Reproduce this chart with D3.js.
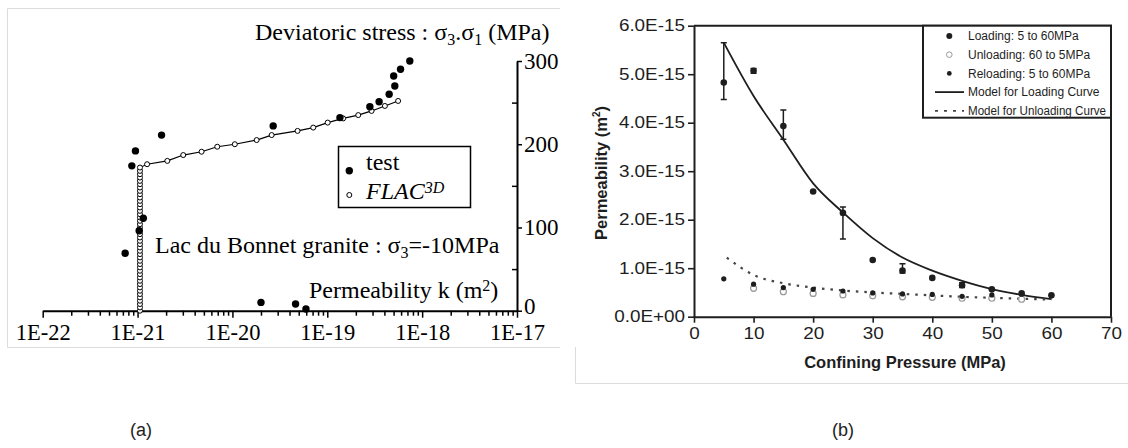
<!DOCTYPE html>
<html>
<head>
<meta charset="utf-8">
<script src="https://cdn.jsdelivr.net/npm/d3@7"></script>
<style>
  body { margin: 0; background: #fff; }
  svg { display: block; }
</style>
</head>
<body>
<script>
// ---- panel (a): permeability vs deviatoric stress ----
const testK = [8.7e-22, 9.5e-22, 1.79e-21, 7.4e-22, 1.04e-21, 1.15e-21, 2.69e-20, 1.36e-19, 2.81e-19,
               3.52e-19, 4.49e-19, 5.15e-19, 5.01e-19, 5.92e-19, 7.41e-19, 2.0e-20, 4.63e-20, 5.96e-20];
const testStress = [174, 192, 211, 69, 96, 111, 222, 232, 245, 251, 260, 270, 282, 290, 300, 10, 8, 2];

// FLAC3D: vertical run at constant k, then the rising branch
const flacK = [1.06e-21, 1.06e-21, 1.06e-21, 1.06e-21, 1.06e-21, 1.06e-21, 1.06e-21, 1.06e-21, 1.06e-21,
               1.06e-21, 1.06e-21, 1.06e-21, 1.06e-21, 1.06e-21, 1.06e-21, 1.06e-21, 1.06e-21, 1.06e-21,
               1.06e-21, 1.06e-21, 1.06e-21, 1.06e-21, 1.06e-21, 1.06e-21, 1.06e-21, 1.06e-21, 1.06e-21,
               1.06e-21, 1.06e-21, 1.06e-21, 1.06e-21, 1.06e-21, 1.06e-21, 1.06e-21, 1.06e-21, 1.06e-21,
               1.06e-21, 1.06e-21, 1.06e-21, 1.06e-21, 1.06e-21, 1.06e-21, 1.06e-21, 1.06e-21,
               1.26e-21, 2.06e-21, 3.03e-21, 4.73e-21, 6.92e-21, 1.06e-20, 1.80e-20, 2.59e-20, 4.86e-20,
               7.11e-20, 1.01e-19, 1.47e-19, 2.12e-19, 2.93e-19, 4.05e-19, 5.58e-19];
const flacStress = [0, 4, 8, 12, 16, 20, 24, 28, 32, 36, 40, 44, 48, 52, 56, 60, 64, 68, 72, 76, 80, 84,
                    88, 92, 96, 100, 104, 108, 112, 116, 120, 124, 128, 132, 136, 140, 144, 148, 152, 156,
                    160, 164, 168, 172,
                    176, 180, 187, 191, 197, 200, 205, 211, 216, 220, 226, 231, 235, 240, 246, 252];

const stressTicks = [0, 100, 200, 300];
const stressMinor = [50, 150, 250];

// ---- panel (b): permeability vs confining pressure (values in 1E-15 m2) ----
const pressure = [5, 10, 15, 20, 25, 30, 35, 40, 45, 50, 55, 60];
const loading = [4.83, 5.07, 3.93, 2.58, 2.14, 1.17, 0.95, 0.80, 0.65, 0.565, 0.48, 0.44];
const loadingLow = [4.48, 5.02, 3.66, null, 1.60, null, 0.90, null, 0.60, null, null, null];
const loadingHigh = [5.65, 5.12, 4.26, null, 2.26, null, 1.09, null, 0.70, null, null, null];
const unloadP = [10, 15, 20, 25, 30, 35, 40, 45, 50, 55];
const unloading = [0.585, 0.515, 0.48, 0.45, 0.43, 0.41, 0.40, 0.38, 0.38, 0.36];
const reloading = [0.78, 0.67, 0.60, 0.565, 0.53, 0.49, 0.47, 0.46, 0.42, 0.45, 0.47, 0.44];
const modelLoadP = [5, 10, 15, 20, 25, 30, 35, 40, 45, 50, 55, 60];
const modelLoad = [5.65, 4.55, 3.65, 2.75, 2.15, 1.62, 1.22, 0.95, 0.74, 0.57, 0.45, 0.36];
const modelUnloadP = [5.5, 10, 15, 20, 25, 30, 35, 40, 45, 50, 55, 60];
const modelUnload = [1.22, 0.86, 0.69, 0.60, 0.54, 0.50, 0.47, 0.44, 0.41, 0.39, 0.37, 0.355];
const permTicks = [0, 1, 2, 3, 4, 5, 6];
const pressTicks = [0, 10, 20, 30, 40, 50, 60, 70];

const legendB = ["Loading: 5 to 60MPa", "Unloading: 60 to 5MPa", "Reloading: 5 to 60MPa",
                 "Model for Loading Curve", "Model for Unloading Curve"];

const W = 1128, H = 448;
const svg = d3.select("body").append("svg").attr("width", W).attr("height", H);
svg.append("rect").attr("width", W).attr("height", H).attr("fill", "#fff");

// faint image borders
const frame = svg.append("g").attr("stroke", "#dcdcdc").attr("stroke-width", 1).attr("fill", "none");
frame.append("path").attr("d", "M560,8.5H7.5V347.5H560");
frame.append("path").attr("d", "M575.5,347V383.5H1128");

// ================= panel (a) =================
const serif = "'Liberation Serif', 'Times New Roman', serif";
const a = svg.append("g").attr("font-family", serif).attr("fill", "#000");

const xK = d3.scaleLog().domain([1e-22, 1e-17]).range([42.7, 517]);
const yS = d3.scaleLinear().domain([0, 300]).range([310.7, 61]);

// bottom log axis
const kTicks = [];
for (let e = -22; e < -17; e++) for (let m = 1; m < 10; m++) kTicks.push(m * Math.pow(10, e));
kTicks.push(1e-17);
const isDecade = d => {
  const e = Math.round(Math.log10(d));
  return Math.abs(d / Math.pow(10, e) - 1) < 1e-6;
};
const xAxA = a.append("g").attr("transform", `translate(0,${yS(0)})`)
  .call(d3.axisBottom(xK).tickValues(kTicks).tickSizeOuter(0)
    .tickFormat(d => isDecade(d) ? "1E" + Math.round(Math.log10(d)) : ""));
xAxA.select(".domain").attr("stroke-width", 2);
xAxA.selectAll(".tick line").attr("stroke-width", 1.5).attr("y2", d => isDecade(d) ? 7 : 5);
xAxA.selectAll(".tick text").attr("font-family", serif).attr("font-size", 22.5).attr("fill", "#000")
  .attr("dy", "0.55em").attr("y", 17);

// right linear axis
const yAxA = a.append("g").attr("transform", `translate(${xK(1e-17)},0)`)
  .call(d3.axisRight(yS).tickValues(stressTicks).tickSize(5).tickSizeOuter(0).tickPadding(2));
yAxA.select(".domain").attr("stroke-width", 2);
yAxA.selectAll(".tick line").attr("stroke-width", 1.5);
yAxA.selectAll(".tick text").attr("font-family", serif).attr("font-size", 23).attr("fill", "#000")
  .attr("dy", d => d === 0 ? "0.12em" : "0.32em");
a.append("g").attr("transform", `translate(${xK(1e-17)},0)`)
  .call(d3.axisLeft(yS).tickValues(stressMinor).tickSize(5).tickFormat(""))
  .call(g => g.select(".domain").remove())
  .selectAll(".tick line").attr("stroke-width", 1.5);

// FLAC3D line and markers
const flac = flacK.map((k, i) => [k, flacStress[i]]);
a.append("path").datum(flac)
  .attr("d", d3.line().x(d => xK(d[0])).y(d => yS(d[1])))
  .attr("fill", "none").attr("stroke", "#000").attr("stroke-width", 1.2);
a.append("g").selectAll("circle").data(flac).join("circle")
  .attr("cx", d => xK(d[0])).attr("cy", d => yS(d[1])).attr("r", 2.5)
  .attr("fill", "#fff").attr("stroke", "#000").attr("stroke-width", 1);

// test points
a.append("g").selectAll("circle").data(testK.map((k, i) => [k, testStress[i]])).join("circle")
  .attr("cx", d => xK(d[0])).attr("cy", d => yS(d[1])).attr("r", 3.7).attr("fill", "#000");

// annotations
const sig = (g, x, y, parts) => {
  const t = g.append("text").attr("x", x).attr("y", y).attr("font-size", 24);
  parts.forEach(p => {
    const s = t.append("tspan").text(p.t);
    if (p.sub) s.attr("font-size", 16).attr("dy", 5);
    if (p.sup) s.attr("font-size", 16).attr("dy", p.up || -9);
    if (p.back) s.attr("dy", p.back);
    if (p.it) s.attr("font-style", "italic");
  });
  return t;
};
sig(a, 255, 40, [{t: "Deviatoric stress : σ"}, {t: "3", sub: true}, {t: ".σ", back: -5}, {t: "1", sub: true}, {t: " (MPa)", back: -5}]);
sig(a, 155, 253, [{t: "Lac du Bonnet granite : σ"}, {t: "3", sub: true}, {t: "=-10MPa", back: -5}]);
sig(a, 309, 297.7, [{t: "Permeability k (m"}, {t: "2", sup: true, up: -7}, {t: ")", back: 7}]);

// legend (a)
const legA = a.append("g");
legA.append("rect").attr("x", 338.5).attr("y", 146.5).attr("width", 132).attr("height", 61)
  .attr("fill", "#fff").attr("stroke", "#000").attr("stroke-width", 1.5);
legA.append("circle").attr("cx", 349.3).attr("cy", 170.7).attr("r", 3.7).attr("fill", "#000");
legA.append("circle").attr("cx", 349.3).attr("cy", 195).attr("r", 2.5).attr("fill", "#fff").attr("stroke", "#000");
legA.append("text").attr("x", 366).attr("y", 170).attr("font-size", 24).text("test");
sig(legA, 366, 199, [{t: "FLAC", it: true}, {t: "3D", sup: true, up: -6, it: true}]);

// ================= panel (b) =================
const sans = "'Liberation Sans', Arial, sans-serif";
const b = svg.append("g").attr("font-family", sans);
const ink = "#1e1e1e";

const xP = d3.scaleLinear().domain([0, 70]).range([694, 1111]);
const yP = d3.scaleLinear().domain([0, 6]).range([316.7, 25.7]);

const fmtE = v => v === 0 ? "0.0E+00" : (v * 1e-15).toExponential(1).toUpperCase();

// frame (top + right)
b.append("path")
  .attr("d", `M${xP(0)},${yP(6)}H${xP(70)}V${yP(0)}`)
  .attr("fill", "none").attr("stroke", ink).attr("stroke-width", 2);

const yAxB = b.append("g").attr("transform", `translate(${xP(0)},0)`)
  .call(d3.axisLeft(yP).tickValues(permTicks).tickFormat(fmtE).tickSize(6).tickSizeOuter(0).tickPadding(3));
const xAxB = b.append("g").attr("transform", `translate(0,${yP(0)})`)
  .call(d3.axisBottom(xP).tickValues(pressTicks).tickSize(6).tickSizeOuter(0).tickPadding(5));
[yAxB, xAxB].forEach(g => {
  g.select(".domain").attr("stroke", ink).attr("stroke-width", 2);
  g.selectAll(".tick line").attr("stroke", ink).attr("stroke-width", 1.6);
  g.selectAll(".tick text").attr("font-family", sans).attr("font-size", 16).attr("fill", ink)
    .each(function () {
      // the scanned labels are set wider than Arial
      const len = this.getComputedTextLength();
      d3.select(this).attr("textLength", len * 1.18).attr("lengthAdjust", "spacingAndGlyphs");
    });
});

b.append("text").attr("x", 905).attr("y", 368).attr("text-anchor", "middle")
  .attr("font-size", 16.5).attr("font-weight", "bold").attr("fill", ink)
  .text("Confining Pressure (MPa)");
const yt = b.append("text").attr("transform", "translate(607,173) rotate(-90)")
  .attr("text-anchor", "middle").attr("font-size", 16.5).attr("font-weight", "bold").attr("fill", ink);
yt.append("tspan").text("Permeability (m");
yt.append("tspan").text("2").attr("font-size", 10).attr("dy", -7);
yt.append("tspan").text(")").attr("dy", 7);

// models
b.append("path").datum(modelLoadP.map((p, i) => [p, modelLoad[i]]))
  .attr("d", d3.line().x(d => xP(d[0])).y(d => yP(d[1])).curve(d3.curveMonotoneX))
  .attr("fill", "none").attr("stroke", ink).attr("stroke-width", 1.8);
b.append("path").datum(modelUnloadP.map((p, i) => [p, modelUnload[i]]))
  .attr("d", d3.line().x(d => xP(d[0])).y(d => yP(d[1])).curve(d3.curveMonotoneX))
  .attr("fill", "none").attr("stroke", "#444").attr("stroke-width", 2.2).attr("stroke-dasharray", "2.5,6");

// error bars on loading
const err = pressure.map((p, i) => ({p, lo: loadingLow[i], hi: loadingHigh[i]})).filter(d => d.lo != null);
const eg = b.append("g").attr("stroke", ink).attr("stroke-width", 1.5);
eg.selectAll("path").data(err).join("path")
  .attr("d", d => `M${xP(d.p)},${yP(d.hi)}V${yP(d.lo)}M${xP(d.p) - 3},${yP(d.hi)}H${xP(d.p) + 3}M${xP(d.p) - 3},${yP(d.lo)}H${xP(d.p) + 3}`);

// markers
b.append("g").selectAll("circle").data(unloadP.map((p, i) => [p, unloading[i]])).join("circle")
  .attr("cx", d => xP(d[0])).attr("cy", d => yP(d[1])).attr("r", 3)
  .attr("fill", "#fff").attr("stroke", "#999").attr("stroke-width", 1.2);
b.append("g").selectAll("circle").data(pressure.map((p, i) => [p, reloading[i]])).join("circle")
  .attr("cx", d => xP(d[0])).attr("cy", d => yP(d[1])).attr("r", 2.6).attr("fill", ink);
b.append("g").selectAll("circle").data(pressure.map((p, i) => [p, loading[i]])).join("circle")
  .attr("cx", d => xP(d[0])).attr("cy", d => yP(d[1])).attr("r", 3.3).attr("fill", ink);

// legend (b)
const legB = b.append("g");
legB.append("rect").attr("x", 923).attr("y", yP(6)).attr("width", xP(70) - 923).attr("height", 92)
  .attr("fill", "#fff").attr("stroke", ink).attr("stroke-width", 2);
const rowY = i => 36 + i * 18.7;
legB.selectAll("text").data(legendB).join("text")
  .attr("x", 968).attr("y", (d, i) => rowY(i) + 4.2).attr("font-size", 12).attr("fill", ink)
  .attr("textLength", (d, i) => i === 4 ? 138 : null).attr("lengthAdjust", "spacingAndGlyphs")
  .text(d => d);
legB.append("circle").attr("cx", 949.3).attr("cy", rowY(0)).attr("r", 3).attr("fill", ink);
legB.append("circle").attr("cx", 949.3).attr("cy", rowY(1)).attr("r", 2.8).attr("fill", "#fff").attr("stroke", "#999");
legB.append("circle").attr("cx", 949.3).attr("cy", rowY(2)).attr("r", 2.4).attr("fill", ink);
legB.append("line").attr("x1", 935).attr("x2", 964).attr("y1", rowY(3)).attr("y2", rowY(3))
  .attr("stroke", ink).attr("stroke-width", 1.8);
legB.append("line").attr("x1", 935).attr("x2", 964).attr("y1", rowY(4)).attr("y2", rowY(4))
  .attr("stroke", "#444").attr("stroke-width", 1.8).attr("stroke-dasharray", "3,6");

// captions
svg.append("text").attr("x", 141).attr("y", 436).attr("text-anchor", "middle")
  .attr("font-family", sans).attr("font-size", 18).attr("fill", "#222").text("(a)");
svg.append("text").attr("x", 843).attr("y", 436).attr("text-anchor", "middle")
  .attr("font-family", sans).attr("font-size", 18).attr("fill", "#222").text("(b)");
</script>
</body>
</html>
